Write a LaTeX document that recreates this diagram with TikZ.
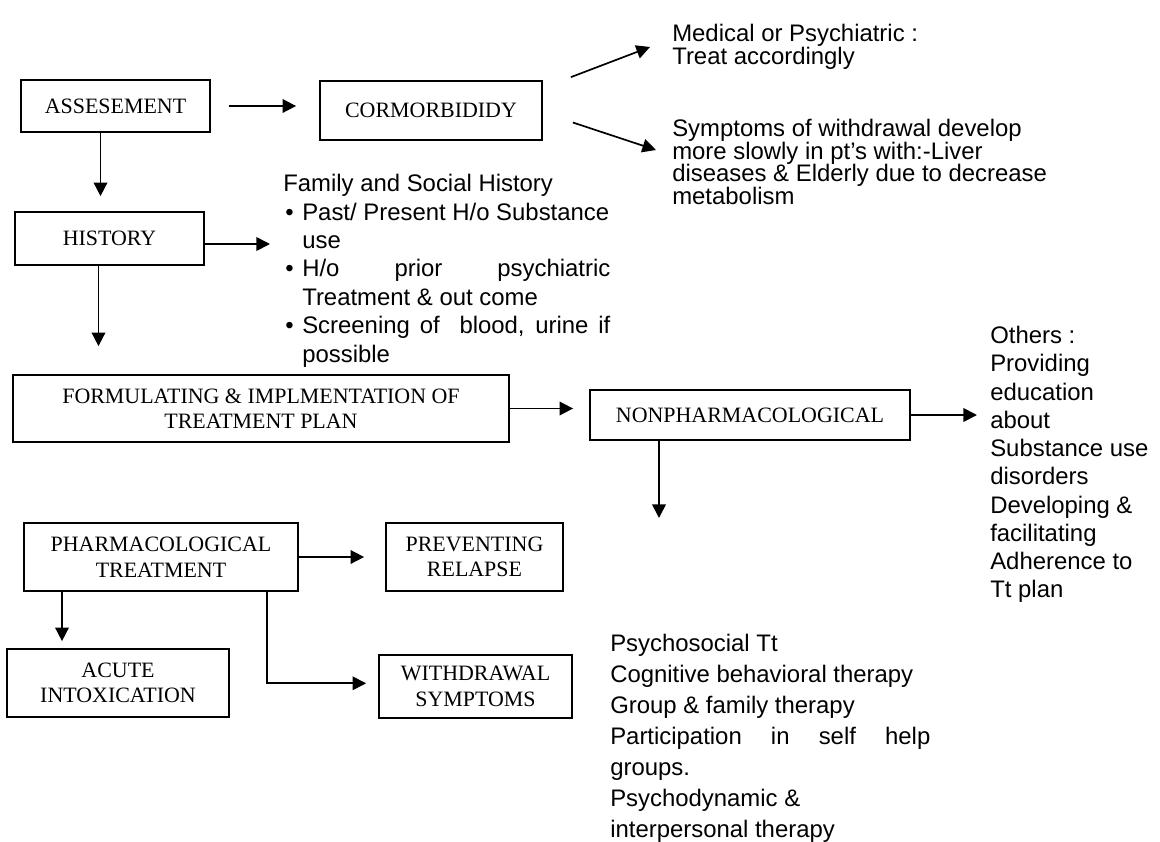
\documentclass[tikz,border=0pt]{standalone}
\usepackage{fontspec}
\setmainfont{Liberation Serif}
\setsansfont{Liberation Sans}
\usetikzlibrary{arrows.meta}
\begin{document}
\begin{tikzpicture}[x=0.025cm,y=-0.025cm,
  box/.style={draw, line width=1.2pt, inner sep=0pt, align=center,
    font=\fontsize{15.6}{18.2}\selectfont},
  arr/.style={line width=1.2pt, -{Triangle[length=0.34cm,width=0.34cm]}},
  txt/.style={inner sep=0pt, anchor=north west, align=left,
    font=\sffamily\fontsize{17}{16.1}\selectfont},
  txtb/.style={txt, font=\sffamily\fontsize{17}{20.2}\selectfont},
  txtc/.style={txt, font=\sffamily\fontsize{17}{20.1}\selectfont},
  txtd/.style={txt, font=\sffamily\fontsize{17}{22}\selectfont}]
\fill[white] (0,0) rectangle (1160,842);
\useasboundingbox (0,0) rectangle (1160,842);

% boxes
\node[box, minimum width=4.725cm, minimum height=1.3cm] (ass) at (115.5,106) {ASSESEMENT};
\node[box, minimum width=5.55cm, minimum height=1.475cm] (cor) at (431,110.5) {CORMORBIDIDY};
\node[box, minimum width=4.725cm, minimum height=1.325cm] (his) at (109.5,238.5) {HISTORY};
\node[box, minimum width=12.4cm, minimum height=1.675cm] (form) at (261,408.5) {FORMULATING \& IMPLMENTATION OF\\TREATMENT PLAN};
\node[box, minimum width=8cm, minimum height=1.25cm] (non) at (750,415) {NONPHARMACOLOGICAL};
\node[box, minimum width=6.85cm, minimum height=1.7cm] (pharm) at (161,557) {PHARMACOLOGICAL\\TREATMENT};
\node[box, minimum width=4.425cm, minimum height=1.7cm] (prev) at (474.5,557) {PREVENTING\\RELAPSE};
\node[box, minimum width=5.55cm, minimum height=1.7cm] (acute) at (118,683) {ACUTE\\INTOXICATION};
\node[box, minimum width=4.825cm, minimum height=1.575cm] (with) at (475.5,686.5) {WITHDRAWAL\\SYMPTOMS};

% texts
\node[txt] (med) at (672,24) {Medical or Psychiatric :\\Treat accordingly};
\node[txt] (sym) at (672,119) {Symptoms of withdrawal develop\\more slowly in pt's with:-Liver\\diseases \& Elderly due to decrease\\metabolism};
\node[txtb] (fam) at (283,174) {Family and Social History\\
\makebox[0.475cm][l]{\hspace{0.05cm}•}Past/ Present H/o Substance\\
\hspace*{0.475cm}use\\
\makebox[0.475cm][l]{\hspace{0.05cm}•}\makebox[7.7cm][s]{H/o prior psychiatric}\\
\hspace*{0.475cm}Treatment \& out come\\
\makebox[0.475cm][l]{\hspace{0.05cm}•}\makebox[7.7cm][s]{Screening of\ \ blood, urine if}\\
\hspace*{0.475cm}possible};
\node[txtc] (oth) at (990,326) {Others :\\Providing\\education\\about\\Substance use\\disorders\\Developing \&\\facilitating\\Adherence to\\Tt plan};
\node[txtd] (psy) at (610,634) {Psychosocial Tt\\Cognitive behavioral therapy\\Group \& family therapy\\\makebox[8cm][s]{Participation in self help}\\groups.\\Psychodynamic \&\\interpersonal therapy};

% free ends
\coordinate (medtip) at (650,47);
\coordinate (symtip) at (656,150);
\coordinate (famtip) at (270,244);
\coordinate (othtip) at (977,415);
\coordinate (psytip) at (659,518);

% connectors
\draw[arr, shorten <=0.45cm, shorten >=0.575cm] (ass.east) -- (ass.east -| cor.west);
\draw[arr] ([shift={(28,-3)}]cor.north east) -- (medtip);
\draw[arr] ([shift={(30,12)}]cor.east) -- (symtip);
\draw[arr, shorten >=0.375cm] ([shift={(-15,0)}]ass.south) -- ([shift={(-15,0)}]ass.south |- his.north);
\draw[arr] (his.east |- famtip) -- (famtip);
\draw[arr, shorten >=0.7cm] ([shift={(-11,0)}]his.south) -- ([shift={(-11,0)}]his.south |- form.north);
\draw[arr, shorten >=0.4cm] (form.east) -- (form.east -| non.west);
\draw[arr] (non.east |- othtip) -- (othtip);
\draw[arr] (non.south -| psytip) -- (psytip);
\draw[arr, shorten >=0.525cm] (pharm.east) -- (pharm.east -| prev.west);
\draw[arr, shorten >=0.175cm] ([shift={(-99,0)}]pharm.south) -- ([shift={(-99,0)}]pharm.south |- acute.north);
\draw[arr, shorten >=0.3cm] ([shift={(106,0)}]pharm.south) |- ([yshift=0.08cm]with.west);
\end{tikzpicture}
\end{document}
